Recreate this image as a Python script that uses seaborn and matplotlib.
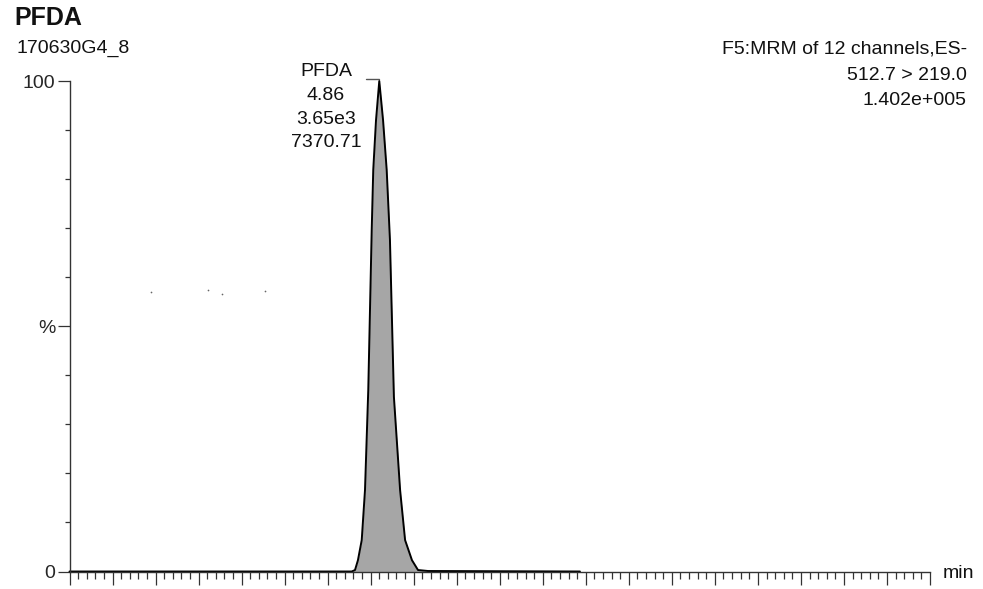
import numpy as np
import pandas as pd
import seaborn as sns
import matplotlib.pyplot as plt

# Chromatogram trace (retention time in min, relative intensity in %)
rt = [3.06, 4.700, 4.719, 4.736, 4.758, 4.777, 4.796, 4.816, 4.825, 4.841, 4.860,
      4.882, 4.903, 4.922, 4.945, 4.981, 5.010, 5.050, 5.085, 5.143, 6.026]
intensity = [0.0, 0.0, 0.3, 2.3, 6.4, 16.6, 37.0, 69.6, 81.9, 92.0, 100.0,
             92.0, 81.9, 67.6, 35.6, 16.6, 6.4, 2.3, 0.3, 0.1, 0.0]

# stray specks in the trace area
speck_rt = [3.534, 3.865, 3.944, 4.196]
speck_int = [57.0, 57.4, 56.6, 57.2]

peak_label = ["PFDA", "4.86", "3.65e3", "7370.71"]
header_right = ["F5:MRM of 12 channels,ES-", "512.7 > 219.0", "1.402e+005"]
compound = "PFDA"
sample = "170630G4_8"

W, H = 983, 589

sns.set_theme(style="ticks")
plt.rcParams['font.family'] = ['Liberation Sans', 'DejaVu Sans']
plt.rcParams['text.color'] = '#111111'

df = pd.DataFrame({'rt': rt, 'intensity': intensity})

fig = plt.figure(figsize=(W / 100, H / 100), dpi=100)
ax = fig.add_axes([69.5 / W, 1 - 571.5 / H, (930 - 69.5) / W, (571.5 - 81) / H])

ax.fill_between(df['rt'], df['intensity'], 0, color='#a6a6a6', lw=0)
sns.lineplot(data=df, x='rt', y='intensity', sort=False, estimator=None,
             color='black', lw=1.4, ax=ax, clip_on=False)
ax.scatter(speck_rt, speck_int, s=1.5, color='#666666', lw=0)

# peak marker flag
ax.plot([4.783, 4.858], [100.4, 100.4], color='#555555', lw=1, clip_on=False)

ax.set_xlim(3.06, 8.06)
ax.set_ylim(0, 100)
ax.set_xlabel('')
ax.set_ylabel('')
for s in ['top', 'right']:
    ax.spines[s].set_visible(False)
for s in ['left', 'bottom']:
    ax.spines[s].set_color('#333333')
    ax.spines[s].set_linewidth(1.0)

ax.set_xticks(np.arange(3.06, 8.0601, 0.25))
ax.set_xticks(np.arange(3.06, 8.0601, 0.05), minor=True)
ax.set_xticklabels([])
ax.set_yticks([0, 50, 100])
ax.set_yticklabels(['0', '%', '100'])
ax.set_yticks(np.arange(0, 101, 10), minor=True)

ax.tick_params(axis='x', which='major', direction='out', length=9, width=0.9, color='#333333')
ax.tick_params(axis='x', which='minor', direction='out', length=5, width=0.9, color='#333333')
ax.tick_params(axis='y', which='major', direction='out', length=8.5, width=0.9,
               color='#333333', pad=1.5, labelsize=14)
ax.tick_params(axis='y', which='minor', direction='out', length=3.6, width=0.9, color='#333333')


def ftext(px, py, s, **kw):
    fig.text(px / W, 1 - py / H, s, va='baseline', **kw)


ftext(14, 25, compound, fontsize=18, fontweight='bold')
ftext(17, 53, sample, fontsize=14)
for line, base in zip(header_right, [53, 80, 105]):
    ftext(967, base, line, fontsize=14, ha='right')
for line, base in zip(peak_label, [76, 100, 124, 147]):
    ftext(326, base, line, fontsize=14, ha='center')
ftext(943, 578, 'min', fontsize=14)

fig.savefig('out.png', dpi=100, facecolor='white')
